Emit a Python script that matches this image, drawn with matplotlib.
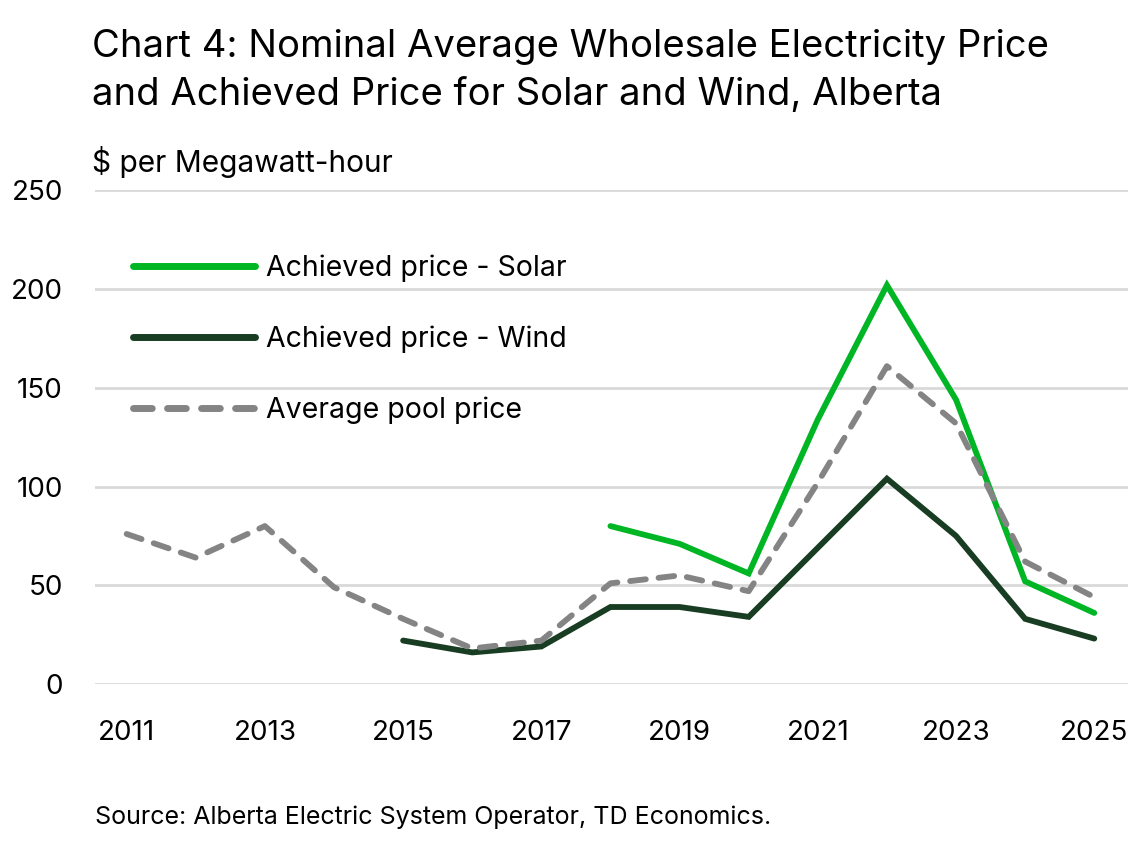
import numpy as np
import matplotlib
matplotlib.use("Agg")
import matplotlib.pyplot as plt

plt.rcParams['font.family'] = ['Inter', 'DejaVu Sans']

years = list(range(2011, 2026))
pool_price = [76, 64, 80, 49, 33, 18, 22, 51, 55, 47, 102, 161, 132, 62, 44]
solar_price = [np.nan] * 7 + [80, 71, 56, 134, 202, 144, 52, 36]
wind_price = [np.nan] * 4 + [22, 16, 19, 39, 39, 34, 69, 104, 75, 33, 23]

xtick_years = list(range(2011, 2026, 2))
ytick_vals = [0, 50, 100, 150, 200, 250]

green = '#00b624'
dark_green = '#183d22'
grey = '#848484'

fig = plt.figure(figsize=(11.43, 8.48), dpi=100)
ax = fig.add_axes([0.083, 0.1934, 0.904, 0.582])

l_solar, = ax.plot(years, solar_price, color=green, lw=4.2, solid_capstyle='round',
                   solid_joinstyle='miter', label='Achieved price - Solar', zorder=3)
l_wind, = ax.plot(years, wind_price, color=dark_green, lw=4.2, solid_capstyle='round',
                  solid_joinstyle='miter', label='Achieved price - Wind', zorder=3)
l_pool, = ax.plot(years, pool_price, color=grey, lw=4.2, dashes=(2.7, 2.2),
                  dash_capstyle='round', label='Average pool price', zorder=4)

ax.set_xlim(2010.54, 2025.49)
ax.set_ylim(0, 250)
ax.set_yticks(ytick_vals)
ax.set_xticks(xtick_years)
ax.set_xticklabels([str(y) for y in xtick_years])
ax.yaxis.grid(True, color='#d9d9d9', lw=2)
ax.set_axisbelow(True)
for s in ax.spines.values():
    s.set_visible(False)
ax.tick_params(axis='both', length=0, labelsize=20, colors='black')
ax.tick_params(axis='y', pad=23)
ax.tick_params(axis='x', pad=26)
for lab in ax.get_yticklabels():
    lab.set_horizontalalignment('right')

leg = ax.legend(handles=[l_solar, l_wind, l_pool], loc='upper left',
                bbox_to_anchor=(0.026, 0.893), frameon=False, fontsize=20.5,
                handlelength=4.28, handletextpad=0.37, labelspacing=1.52,
                borderaxespad=0)
for h in leg.get_lines():
    h.set_linewidth(5)

fig.text(0.0805, 0.945, 'Chart 4: Nominal Average Wholesale Electricity Price', fontsize=27.5,
         ha='left', va='center')
fig.text(0.0805, 0.888, 'and Achieved Price for Solar and Wind, Alberta', fontsize=27.5,
         ha='left', va='center')
fig.text(0.0805, 0.809, '$ per Megawatt-hour', fontsize=21.5, ha='left', va='center')
fig.text(0.083, 0.022, 'Source: Alberta Electric System Operator, TD Economics.',
         fontsize=18, ha='left', va='bottom')

fig.savefig('out.png', dpi=100)
